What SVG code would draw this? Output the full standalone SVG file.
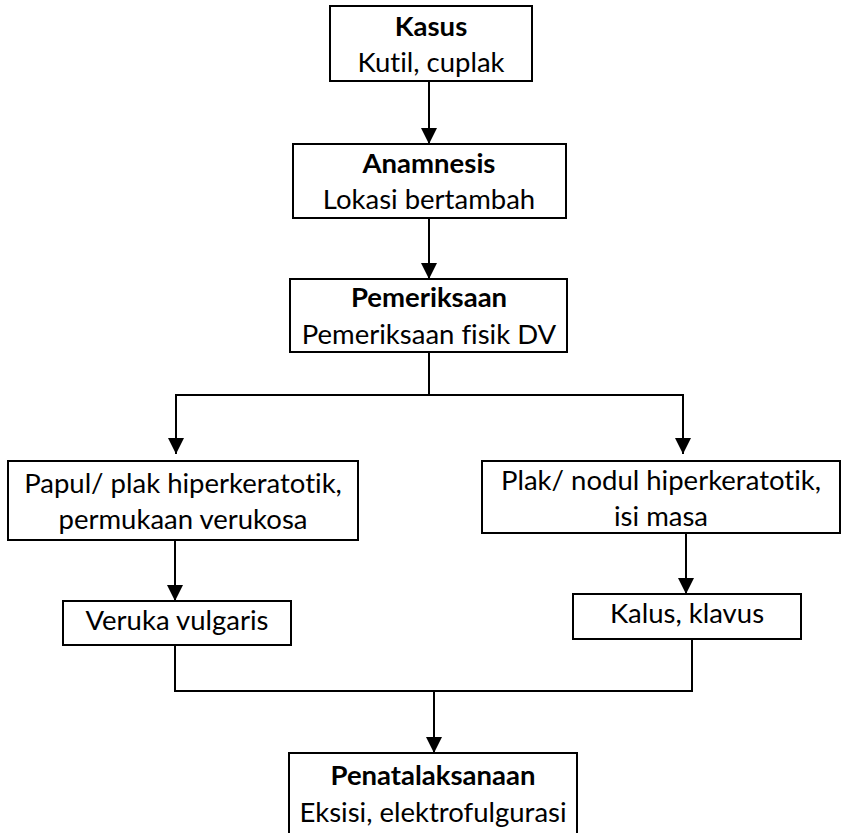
<svg xmlns="http://www.w3.org/2000/svg" width="841" height="833" viewBox="0 0 841 833">
  <style>
    .box { fill: #ffffff; stroke: #000000; stroke-width: 2; }
    .t { font-family: Lato, "Liberation Sans", sans-serif; font-size: 27.5px; fill: #000000; text-anchor: middle; font-variant-ligatures: none; }
    .b { font-weight: bold; }
    .c { fill: none; stroke: #000000; stroke-width: 2; }
  </style>
  <defs>
    <marker id="arrow" markerUnits="userSpaceOnUse" markerWidth="17" markerHeight="17" refX="16" refY="8" orient="auto">
      <path d="M0,0 L16,8 L0,16 Z" fill="#000000"/>
    </marker>
  </defs>
  <rect width="841" height="833" fill="#ffffff"/>

  <g id="connectors">
    <line class="c" x1="429" y1="81" x2="429" y2="144" marker-end="url(#arrow)"/>
    <line class="c" x1="429" y1="218" x2="429" y2="279" marker-end="url(#arrow)"/>
    <polyline class="c" points="429,352 429,395"/>
    <polyline class="c" points="176,400 176,395 683,395 683,400"/>
    <line class="c" x1="176" y1="394" x2="176" y2="454" marker-end="url(#arrow)"/>
    <line class="c" x1="683" y1="394" x2="683" y2="454" marker-end="url(#arrow)"/>
    <line class="c" x1="175" y1="540" x2="175" y2="601" marker-end="url(#arrow)"/>
    <line class="c" x1="686" y1="533" x2="686" y2="594" marker-end="url(#arrow)"/>
    <polyline class="c" points="175,642 175,691 692,691 692,635"/>
    <line class="c" x1="434" y1="691" x2="434" y2="753" marker-end="url(#arrow)"/>
  </g>

  <g id="kasus">
    <rect class="box" x="330" y="6" width="202" height="75"/>
    <text class="t b" x="431" y="36">Kasus</text>
    <text class="t" x="431" y="72">Kutil, cuplak</text>
  </g>

  <g id="anamnesis">
    <rect class="box" x="293" y="144" width="273" height="74"/>
    <text class="t b" x="429" y="173">Anamnesis</text>
    <text class="t" x="429" y="209">Lokasi bertambah</text>
  </g>

  <g id="pemeriksaan">
    <rect class="box" x="290" y="279" width="277" height="73"/>
    <text class="t b" x="429" y="307">Pemeriksaan</text>
    <text class="t" x="429" y="344">Pemeriksaan fisik DV</text>
  </g>

  <g id="papul">
    <rect class="box" x="8" y="461" width="350" height="79"/>
    <text class="t" x="183" y="493">Papul/ plak hiperkeratotik,</text>
    <text class="t" x="183" y="529">permukaan verukosa</text>
  </g>

  <g id="plak">
    <rect class="box" x="482" y="461" width="358" height="72"/>
    <text class="t" x="661" y="490">Plak/ nodul hiperkeratotik,</text>
    <text class="t" x="661" y="526">isi masa</text>
  </g>

  <g id="veruka">
    <rect class="box" x="63" y="601" width="228" height="44"/>
    <text class="t" x="177" y="630">Veruka vulgaris</text>
  </g>

  <g id="kalus">
    <rect class="box" x="573" y="594" width="228" height="45"/>
    <text class="t" x="687" y="623">Kalus, klavus</text>
  </g>

  <g id="penatalaksanaan">
    <rect class="box" x="289" y="753" width="288" height="100"/>
    <text class="t b" x="433" y="785">Penatalaksanaan</text>
    <text class="t" x="433" y="822">Eksisi, elektrofulgurasi</text>
  </g>
</svg>
